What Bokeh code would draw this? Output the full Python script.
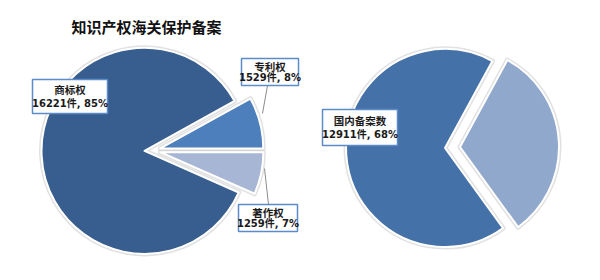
import numpy as np
from bokeh.plotting import figure
from bokeh.models import Range1d, ColumnDataSource
from bokeh.core.properties import value
from bokeh.embed import file_html
from bokeh.resources import INLINE

title_text = "知识产权海关保护备案"

left_labels = ["商标权", "专利权", "著作权"]
left_values = [16221, 1529, 1259]
left_pcts = ["85%", "8%", "7%"]
left_colors = ["#375e8f", "#4c7fbb", "#a7b6d5"]

right_labels = ["国内备案数", "其他"]
right_values = [12911, 6098]
right_pcts = ["68%", "32%"]
right_colors = ["#4471a7", "#91a8cd"]

W, H = 600, 280
p = figure(width=W, height=H, output_backend="svg", toolbar_location=None,
           x_range=Range1d(0, W), y_range=Range1d(0, H), min_border=0)
p.axis.visible = False
p.grid.visible = False
p.outline_line_color = None
p.background_fill_color = "white"
p.border_fill_color = "white"


def pie(cx, cy, r, values, colors, order, start_deg, explode):
    vals = np.array(values, dtype=float)
    frac = vals / vals.sum()
    a = np.deg2rad(start_deg)
    starts = np.zeros(len(vals))
    ends = np.zeros(len(vals))
    for i in order:
        starts[i] = a
        a += frac[i] * 2 * np.pi
        ends[i] = a
    mids = (starts + ends) / 2
    xs = cx + explode * np.cos(mids)
    ys = cy + explode * np.sin(mids)
    src = ColumnDataSource(dict(x=xs, y=ys, s=starts, e=ends, c=colors))
    p.wedge(x="x", y="y", radius=r, start_angle="s", end_angle="e", source=src,
            fill_color=None, line_color="#c8c8c8", line_width=5, line_alpha=0.55,
            line_join="round")
    p.wedge(x="x", y="y", radius=r, start_angle="s", end_angle="e", source=src,
            fill_color="c", line_color="white", line_width=2, line_join="round")
    return starts, ends


pie(152, 280 - 150, 103, left_values, left_colors, [1, 0, 2], 0.0, 8)
pie(452, 280 - 147, 99, right_values, right_colors, [0, 1], 61.4, 7.5)

# title
p.text(x=[146], y=[280 - 26], text=[title_text], text_align="center",
       text_baseline="middle", text_font=value("Noto Sans CJK SC"),
       text_font_size="15px", text_font_style="bold", text_color="#111111")

# leader lines (image coords)
lead_x = [[267, 262], [268, 264]]
lead_y = [[280 - 85, 280 - 113], [280 - 204, 280 - 168]]
p.multi_line(xs=lead_x, ys=lead_y, line_color="#8c8c8c", line_width=1)

# label boxes: (left, top, right, bottom) in image px
boxes = [(32, 79, 107, 113), (241, 58, 298, 85), (238, 204, 297, 231), (322, 109, 397, 145)]
names = [left_labels[0], left_labels[1], left_labels[2], right_labels[0]]
vals = [left_values[0], left_values[1], left_values[2], right_values[0]]
pcts = [left_pcts[0], left_pcts[1], left_pcts[2], right_pcts[0]]

p.quad(left=[b[0] for b in boxes], right=[b[2] for b in boxes],
       top=[280 - b[1] for b in boxes], bottom=[280 - b[3] for b in boxes],
       fill_color="white", line_color="#5b8bc8", line_width=1.5)

label_font = value("DejaVu Sans, Noto Sans CJK SC")
cxs = [(b[0] + b[2]) / 2 for b in boxes]
y1 = [280 - (b[1] + (b[3] - b[1]) * 0.32) for b in boxes]
y2 = [280 - (b[1] + (b[3] - b[1]) * 0.70) for b in boxes]
line2 = [f"{v}件, {pc}" for v, pc in zip(vals, pcts)]
p.text(x=cxs, y=y1, text=names, text_align="center", text_baseline="middle",
       text_font=label_font, text_font_size="10.5px",
       text_font_style="bold", text_color="#1a1a1a")
p.text(x=cxs, y=y2, text=line2, text_align="center", text_baseline="middle",
       text_font=label_font, text_font_size="10px",
       text_font_style="bold", text_color="#1a1a1a")

open("out.html", "w").write(file_html(p, INLINE))
